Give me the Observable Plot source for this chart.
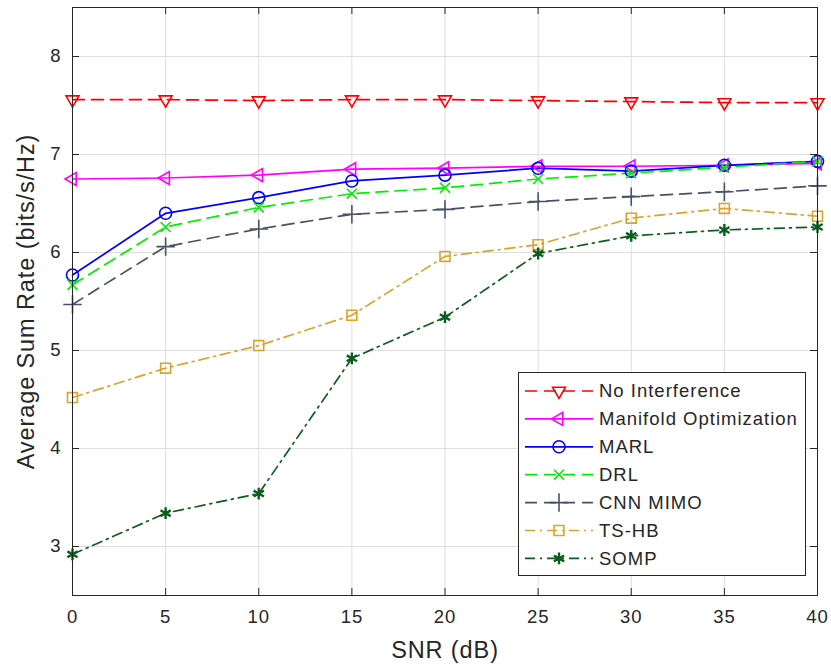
<!DOCTYPE html>
<html><head><meta charset="utf-8">
<script src="https://cdn.jsdelivr.net/npm/d3@7"></script>
<script src="https://cdn.jsdelivr.net/npm/@observablehq/plot@0.6"></script>
<style>
body{margin:0;background:#fff;}
#wrap{position:relative;width:831px;height:670px;}
#legend{position:absolute;left:518px;top:372px;}
</style></head><body><div id="wrap"></div>
<script>
const snr = [0, 5, 10, 15, 20, 25, 30, 35, 40];
const noInterference = [7.56, 7.56, 7.55, 7.56, 7.56, 7.55, 7.54, 7.53, 7.53];
const manifoldOpt   = [6.75, 6.76, 6.79, 6.85, 6.86, 6.88, 6.88, 6.89, 6.91];
const marl          = [5.77, 6.40, 6.56, 6.73, 6.79, 6.86, 6.83, 6.89, 6.93];
const drl           = [5.67, 6.26, 6.46, 6.60, 6.66, 6.75, 6.81, 6.87, 6.93];
const cnnMimo       = [5.47, 6.06, 6.24, 6.39, 6.44, 6.52, 6.57, 6.62, 6.68];
const tsHb          = [4.52, 4.82, 5.05, 5.36, 5.96, 6.08, 6.35, 6.45, 6.37];
const somp          = [2.92, 3.34, 3.54, 4.92, 5.34, 5.99, 6.17, 6.23, 6.26];

const seriesNames = ["No Interference", "Manifold Optimization", "MARL", "DRL", "CNN MIMO", "TS-HB", "SOMP"];
const seriesValues = [noInterference, manifoldOpt, marl, drl, cnnMimo, tsHb, somp];
const seriesColors = ["#ff0000", "#ff00ff", "#0000ff", "#00ee00", "#4a5068", "#d9a429", "#0b5e1e"];
const xTicks = [0, 5, 10, 15, 20, 25, 30, 35, 40];
const yTicks = [3, 4, 5, 6, 7, 8];

const DASH = "12,7", DASHDOT = "10,5,2,5";
const triDown = {draw(ctx, size){const r=Math.sqrt(size/Math.PI)*1.15; ctx.moveTo(0,r); ctx.lineTo(-0.866*r,-0.5*r); ctx.lineTo(0.866*r,-0.5*r); ctx.closePath();}};
const triLeft = {draw(ctx, size){const r=Math.sqrt(size/Math.PI)*1.15; ctx.moveTo(-r,0); ctx.lineTo(0.5*r,-0.866*r); ctx.lineTo(0.5*r,0.866*r); ctx.closePath();}};
const styles = [
  {dash: DASH, symbol: triDown, r: 6.5, sw: 1.6},
  {dash: null, symbol: triLeft, r: 6.5, sw: 1.6},
  {dash: null, symbol: d3.symbolCircle, r: 6, sw: 1.6},
  {dash: DASH, symbol: d3.symbolTimes, r: 4.6, sw: 1.6},
  {dash: DASH, symbol: d3.symbolPlus, r: 6, sw: 1.6},
  {dash: DASHDOT, symbol: d3.symbolSquare, r: 5.6, sw: 1.6},
  {dash: DASHDOT, symbol: d3.symbolAsterisk, r: 5.6, sw: 2.4}
];

const table = [];
seriesNames.forEach((name, i) => seriesValues[i].forEach((v, j) => table.push({series: name, idx: i, snr: snr[j], rate: v})));

const W = 831, H = 670, mL = 72, mR = 14, mT = 7, mB = 75;
const innerW = W - mL - mR, innerH = H - mT - mB;
const axisColor = "#262626", gridColor = "#dedede", tickLen = 7;
const FONT = "'Liberation Sans', Arial, Helvetica, sans-serif";

const marks = [
  Plot.ruleX(xTicks, {x: d => d, stroke: gridColor, strokeWidth: 1}),
  Plot.ruleY(yTicks, {y: d => d, stroke: gridColor, strokeWidth: 1}),
];
seriesNames.forEach((name, i) => {
  const d = table.filter(t => t.idx === i);
  const s = styles[i];
  marks.push(Plot.line(d, {x: "snr", y: "rate", stroke: seriesColors[i], strokeWidth: 1.7, strokeDasharray: s.dash}));
});
seriesNames.forEach((name, i) => {
  const d = table.filter(t => t.idx === i);
  const s = styles[i];
  marks.push(Plot.dot(d, {x: "snr", y: "rate", symbol: () => s.symbol, r: s.r, stroke: seriesColors[i], fill: "none", strokeWidth: s.sw}));
});
marks.push(
  Plot.ruleX(xTicks, {x: d => d, stroke: axisColor, insetTop: innerH - tickLen}),
  Plot.ruleX(xTicks, {x: d => d, stroke: axisColor, insetBottom: innerH - tickLen}),
  Plot.ruleY(yTicks, {y: d => d, stroke: axisColor, insetRight: innerW - tickLen}),
  Plot.ruleY(yTicks, {y: d => d, stroke: axisColor, insetLeft: innerW - tickLen}),
  Plot.frame({stroke: axisColor, strokeWidth: 1}),
  Plot.axisX({ticks: xTicks, tickSize: 0, tickPadding: 14, fontSize: 18.5, label: null, color: axisColor, tickFormat: d => String(d)}),
  Plot.axisY({ticks: yTicks, tickSize: 0, tickPadding: 11, fontSize: 18.5, label: null, color: axisColor, tickFormat: d => String(d)}),
  Plot.text(["SNR (dB)"], {frameAnchor: "bottom", dy: 62, fontSize: 23.5, fill: axisColor}),
  Plot.text(["Average Sum Rate (bits/s/Hz)"], {frameAnchor: "left", dx: -46, rotate: -90, textAnchor: "middle", fontSize: 23.5, fill: axisColor})
);

const chart = Plot.plot({
  width: W, height: H,
  marginLeft: mL, marginRight: mR, marginTop: mT, marginBottom: mB,
  x: {domain: [0, 40], axis: null},
  y: {domain: [2.5, 8.5], axis: null},
  style: {fontFamily: FONT, background: "white", overflow: "visible", letterSpacing: "0.9px"},
  marks
});
const wrap = document.getElementById("wrap");
wrap.appendChild(chart);

// Legend
const LW = 287, LH = 203, rowH = 27.9, row0 = 19;
const lsvg = d3.select(wrap).append("svg").attr("id", "legend").attr("width", LW + 1).attr("height", LH + 1)
  .style("font-family", FONT);
lsvg.append("rect").attr("x", 0.5).attr("y", 0.5).attr("width", LW).attr("height", LH).attr("fill", "white").attr("stroke", axisColor);
seriesNames.forEach((name, i) => {
  const s = styles[i];
  const g = lsvg.append("g").attr("transform", `translate(0,${row0 + i * rowH})`);
  g.append("line").attr("x1", 7).attr("x2", 75).attr("y1", 0).attr("y2", 0)
    .attr("stroke", seriesColors[i]).attr("stroke-width", 1.7).attr("stroke-dasharray", s.dash);
  g.append("path").attr("transform", "translate(41,0)")
    .attr("d", d3.symbol().type(s.symbol).size(Math.PI * s.r * s.r)())
    .attr("fill", "none").attr("stroke", seriesColors[i]).attr("stroke-width", s.sw);
  g.append("text").attr("x", 81).attr("y", 0).attr("dy", "0.35em").attr("font-size", 18.5).attr("fill", axisColor)
    .attr("letter-spacing", "1px").text(name);
});
</script></body></html>
